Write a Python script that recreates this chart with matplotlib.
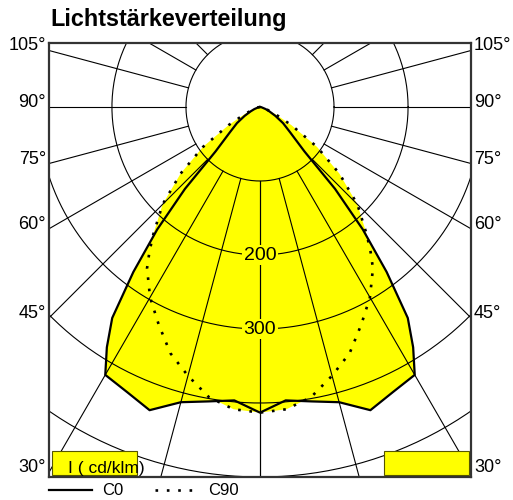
import numpy as np
import matplotlib
matplotlib.use("Agg")
import matplotlib.pyplot as plt
from matplotlib.patches import Rectangle

plt.rcParams['font.family'] = ['Liberation Sans', 'DejaVu Sans']

# angle from nadir (deg) and intensity (cd/klm), curve is symmetric
angles_c0 = [0, 5, 10, 15, 20, 25, 30, 32.5, 35, 37.5, 40, 42.5, 45, 50, 55, 60, 65, 70, 80, 90]
c0 = [413, 398, 404, 413, 436, 425, 418, 385, 348, 281, 216, 150, 85, 53, 38, 24, 14, 8, 2, 0]

angles_c90 = [0, 5, 10, 15, 20, 25, 30, 35, 37.5, 40, 45, 50, 55, 60, 65, 70, 80, 90]
c90 = [413, 410, 398, 376, 354, 324, 297, 266, 245, 224, 186, 140, 94, 49, 23, 10, 3, 0]

rings = [100, 200, 300, 400, 500]
ring_labels = [200, 300]
side_angles = [30, 45, 60, 75, 90, 105]

YEL = '#ffff00'
FONT_TICK = 13
FONT_LEG = 12
X0, X1 = -285, 285
Y0, Y1 = -500, 86.5


def to_xy(ang, val):
    # mirror to both sides, 0 deg points down
    a = np.radians(np.concatenate([-np.array(ang)[::-1], np.array(ang)[1:]]))
    v = np.concatenate([np.array(val)[::-1], np.array(val)[1:]])
    return v*np.sin(a), -v*np.cos(a)


fig = plt.figure(figsize=(5.13, 5.0), dpi=100)
ax = fig.add_axes([49/513, 23/500, 422/513, 434/500])
ax.set_xlim(X0, X1)
ax.set_ylim(Y0, Y1)
ax.set_xticks([])
ax.set_yticks([])
for s in ax.spines.values():
    s.set_linewidth(1.6)
    s.set_color('#333333')

x0, y0 = to_xy(angles_c0, c0)
x90, y90 = to_xy(angles_c90, c90)
ax.fill(x0, y0, color=YEL, lw=0, zorder=1)
ax.fill(x90, y90, color=YEL, lw=0, zorder=1)

# grid
t = np.linspace(0, 2*np.pi, 400)
for r in rings:
    ax.plot(r*np.cos(t), r*np.sin(t), color='k', lw=0.8, zorder=2)
for a in range(0, 181, 15):
    ar = np.radians(a)
    for sgn in (-1, 1):
        ax.plot([sgn*100*np.sin(ar), sgn*900*np.sin(ar)], [-100*np.cos(ar), -900*np.cos(ar)],
                color='k', lw=0.8, zorder=2)

for v in ring_labels:
    ax.text(0, -v, str(v), ha='center', va='center', fontsize=14, zorder=3,
            bbox=dict(facecolor=YEL, edgecolor='none', pad=1.0))

# curves
ax.plot(x0, y0, color='k', lw=1.6, zorder=4)
ax.plot(x90, y90, color='k', lw=1.9, ls=(0, (1, 3.3)), zorder=4)

# angle labels where the rays hit the frame
for a in side_angles:
    ar = np.radians(a)
    yy = -X1*np.cos(ar)/np.sin(ar)
    ax.text(X0-4, yy, '%d°' % a, ha='right', va='baseline', fontsize=FONT_TICK, clip_on=False)
    ax.text(X1+4, yy, '%d°' % a, ha='left', va='baseline', fontsize=FONT_TICK, clip_on=False)

# boxes at the bottom
ax.add_patch(Rectangle((-281, -497), 115, 32, facecolor=YEL, edgecolor='#555500', lw=0.8, zorder=5))
ax.add_patch(Rectangle((167.5, -497), 115, 32, facecolor=YEL, edgecolor='#555500', lw=0.8, zorder=5))
ax.text(-260, -494.5, 'I ( cd/klm)', ha='left', va='baseline', fontsize=12.5, zorder=6, clip_on=False)

# legend under the frame
ax.plot([-285, -227], [-517.5, -517.5], color='k', lw=1.6, clip_on=False)
ax.text(-213, -525, 'C0', ha='left', va='baseline', fontsize=FONT_LEG, clip_on=False)
ax.plot([-142, -90], [-517.5, -517.5], color='k', lw=1.9, ls=(0, (1, 3.3)), clip_on=False)
ax.text(-70, -525, 'C90', ha='left', va='baseline', fontsize=FONT_LEG, clip_on=False)

fig.text(50/513, 1-26/500, 'Lichtstärkeverteilung', ha='left', va='baseline',
         fontsize=16.8, fontweight='bold')

plt.savefig('out.png', dpi=100)
